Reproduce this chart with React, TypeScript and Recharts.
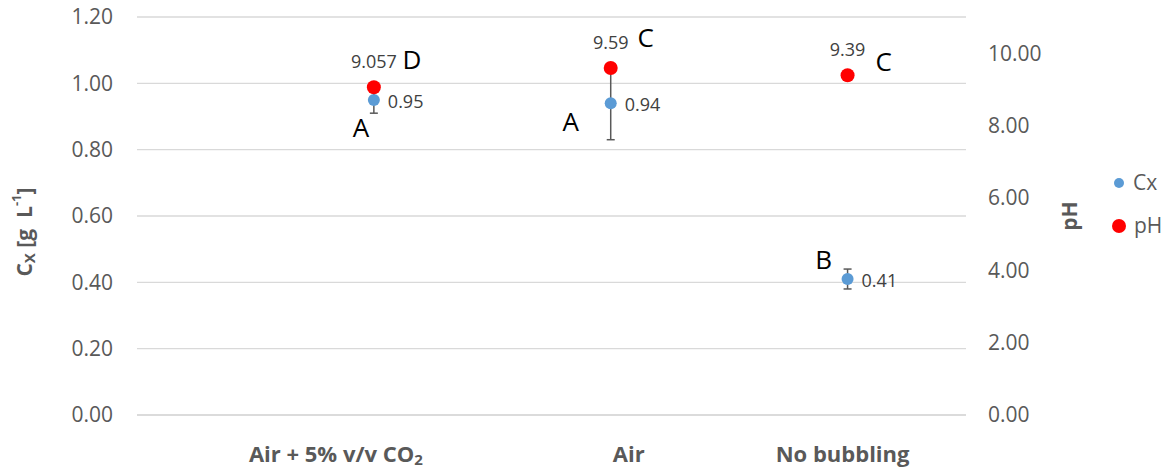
import React from "react"
import { ComposedChart, Scatter, XAxis, YAxis, CartesianGrid, ErrorBar } from "recharts"

const categories = ["Air + 5% v/v CO", "Air", "No bubbling"]
const categorySubscripts = ["2", "", ""]
const cxValues = [0.95, 0.94, 0.41]
const cxErrors = [0.04, 0.11, 0.03]
const phValues = [9.057, 9.59, 9.39]
const phLabels = ["9.057", "9.59", "9.39"]
const cxLetters = ["A", "A", "B"]
const phLetters = ["D", "C", "C"]
const leftTicks = [0, 0.2, 0.4, 0.6, 0.8, 1.0, 1.2]
const rightTicks = [0, 2, 4, 6, 8, 10]

// letter placement relative to each dot (style only)
const CX_LETTER_OFFSET = [[-13, 27], [-40, 18], [-24, -20]]
const PH_LETTER_OFFSET = [[38, -28], [35, -31], [36, -14]]
// category labels in the original are nudged off-centre
const X_LABEL_SHIFT = [-38, 18, -5]

const BLUE = "#5B9BD5"
const RED = "#FF0000"
const GREY = "#595959"
const FONT = "'Open Sans', 'Noto Sans', sans-serif"

const data = categories.map((c, i) => ({
  i,
  x: i + 1,
  cx: cxValues[i],
  cxErr: cxErrors[i],
  ph: phValues[i],
}))

const CxDot = (props: any) => {
  const { cx, cy, payload } = props
  const i = payload.i
  const [lx, ly] = CX_LETTER_OFFSET[i]
  return (
    <g>
      <circle cx={cx} cy={cy} r={6} fill={BLUE} />
      <text x={cx + 14} y={cy + 1} dominantBaseline="central" fontSize={18} fill="#404040" fontFamily={FONT}>
        {cxValues[i].toFixed(2)}
      </text>
      <text x={cx + lx} y={cy + ly} dominantBaseline="central" textAnchor="middle" fontSize={26} fill="#000" fontFamily={FONT}>
        {cxLetters[i]}
      </text>
    </g>
  )
}

const PhDot = (props: any) => {
  const { cx, cy, payload } = props
  const i = payload.i
  const [lx, ly] = PH_LETTER_OFFSET[i]
  return (
    <g>
      <circle cx={cx} cy={cy} r={7} fill={RED} />
      <text x={cx} y={cy - 26} dominantBaseline="central" textAnchor="middle" fontSize={18} fill="#404040" fontFamily={FONT}>
        {phLabels[i]}
      </text>
      <text x={cx + lx} y={cy + ly} dominantBaseline="central" textAnchor="middle" fontSize={26} fill="#000" fontFamily={FONT}>
        {phLetters[i]}
      </text>
    </g>
  )
}

const XTick = (props: any) => {
  const { x, payload } = props
  const idx = Math.round(payload.value) - 1
  if (idx < 0 || idx >= categories.length) return null
  return (
    <text x={x + X_LABEL_SHIFT[idx]} y={453} textAnchor="middle" dominantBaseline="central" fontSize={22} fontWeight="bold" fill={GREY} fontFamily={FONT}>
      {categories[idx]}
      {categorySubscripts[idx] && (
        <tspan fontSize={15} dy={6}>
          {categorySubscripts[idx]}
        </tspan>
      )}
    </text>
  )
}

const CxTitle = (props: any) => {
  const vb = props.viewBox
  const x = 24
  const y = vb.y + vb.height / 2 + 16
  return (
    <text transform={`translate(${x},${y}) rotate(-90)`} textAnchor="middle" dominantBaseline="central" fontSize={21} fontWeight="bold" fill={GREY} fontFamily={FONT}>
      C
      <tspan fontSize={15} dy={5}>X</tspan>
      <tspan dy={-5}>{"\u00a0[g\u00a0\u00a0L"}</tspan>
      <tspan fontSize={13} dy={-8}>-1</tspan>
      <tspan dy={8}>]</tspan>
    </text>
  )
}

const PhTitle = (props: any) => {
  const vb = props.viewBox
  const x = 1069
  const y = vb.y + vb.height / 2
  return (
    <text transform={`translate(${x},${y}) rotate(-90)`} textAnchor="middle" dominantBaseline="central" fontSize={21} fontWeight="bold" fill={GREY} fontFamily={FONT}>
      pH
    </text>
  )
}

export default function App() {
  return (
    <div style={{ position: "absolute", left: 0, top: 0, width: 1173, height: 471, background: "#fff" }}>
      <ComposedChart width={1173} height={471} data={data} margin={{ top: 17, right: 0, bottom: 0, left: 0 }}>
        <CartesianGrid vertical={false} stroke="#D9D9D9" strokeWidth={1.3} yAxisId="left" />
        <XAxis
          type="number"
          dataKey="x"
          domain={[0, 3.5]}
          ticks={[1, 2, 3]}
          tick={<XTick />}
          tickLine={false}
          axisLine={{ stroke: "#D9D9D9", strokeWidth: 1.3 }}
          height={56}
          interval={0}
        />
        <YAxis
          yAxisId="left"
          domain={[0, 1.2]}
          ticks={leftTicks}
          tickFormatter={(v: number) => v.toFixed(2)}
          width={137}
          tickLine={false}
          axisLine={false}
          tickSize={0}
          tickMargin={24}
          tick={{ fontSize: 21, fill: GREY, fontFamily: FONT }}
          label={<CxTitle />}
        />
        <YAxis
          yAxisId="right"
          orientation="right"
          domain={[0, 11]}
          ticks={rightTicks}
          tickFormatter={(v: number) => v.toFixed(2)}
          width={207}
          tickLine={false}
          axisLine={false}
          tickSize={0}
          tickMargin={22}
          tick={{ fontSize: 21, fill: GREY, fontFamily: FONT, textAnchor: "start" }}
          label={<PhTitle />}
        />
        <Scatter yAxisId="left" dataKey="cx" name="Cx" fill={BLUE} shape={<CxDot />} isAnimationActive={false}>
          <ErrorBar dataKey="cxErr" direction="y" width={4} stroke={GREY} strokeWidth={1.5} />
        </Scatter>
        <Scatter yAxisId="right" dataKey="ph" name="pH" fill={RED} shape={<PhDot />} isAnimationActive={false} />
      </ComposedChart>
      <div style={{ position: "absolute", left: 1112, top: 161, fontFamily: FONT, fontSize: 21, color: GREY, lineHeight: "43px" }}>
        <div style={{ display: "flex", alignItems: "center" }}>
          <span style={{ display: "inline-block", width: 10, height: 10, borderRadius: 5, background: BLUE, marginLeft: 2, marginRight: 9 }} />
          Cx
        </div>
        <div style={{ display: "flex", alignItems: "center" }}>
          <span style={{ display: "inline-block", width: 14, height: 14, borderRadius: 7, background: RED, marginRight: 8 }} />
          pH
        </div>
      </div>
    </div>
  )
}
